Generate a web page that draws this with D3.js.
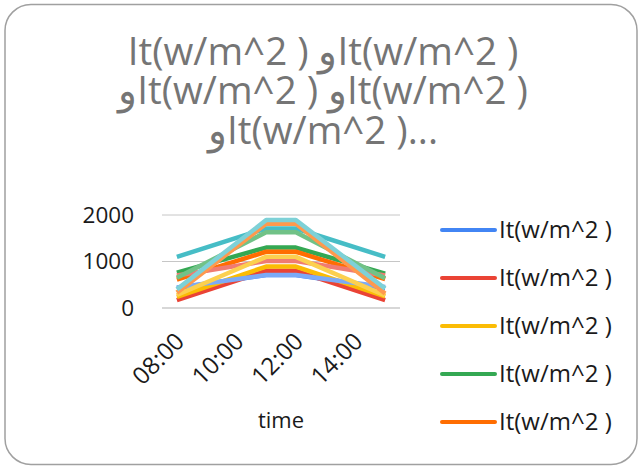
<!DOCTYPE html>
<html>
<head>
<meta charset="utf-8">
<script src="https://cdn.jsdelivr.net/npm/d3@7"></script>
<style>
  html, body { margin: 0; padding: 0; background: #fff; }
  svg { display: block; }
  .ltr-exact { direction: ltr; unicode-bidi: bidi-override; }
</style>
</head>
<body>
<svg id="chart" width="639" height="467"></svg>
<script>
// Hourly categories; only some hours carry readings, the line joins the ones present.
const categories = ["08:00", "09:00", "10:00", "11:00", "12:00", "13:00", "14:00", "15:00"];
const tickLabels = ["08:00", "10:00", "12:00", "14:00"];
const yTicks = [0, 1000, 2000];

const seriesNames = ["It(w/m^2 )", "It(w/m^2 )", "It(w/m^2 )", "It(w/m^2 )", "It(w/m^2 )", "It(w/m^2 )",
                     "It(w/m^2 )", "It(w/m^2 )", "It(w/m^2 )", "It(w/m^2 )", "It(w/m^2 )", "It(w/m^2 )"];
const seriesColors = ["#4285F4", "#EA4335", "#FBBC04", "#34A853", "#FF6D01", "#46BDC6",
                      "#7BAAF7", "#F07B72", "#FCD04F", "#71C287", "#FF994D", "#7ED1D7"];

const s1  = [430, null, null, 710, 710, null, null, 430];
const s2  = [170, null, null, 800, 800, null, null, 170];
const s3  = [240, null, null, 890, 890, null, null, 250];
const s4  = [760, null, null, 1300, 1300, null, null, 740];
const s5  = [610, null, null, 1210, 1210, null, null, 620];
const s6  = [1100, null, null, 1710, 1710, null, null, 1100];
const s7  = [440, null, null, 710, 710, null, null, 450];
const s8  = [700, null, null, 1010, 1010, null, null, 700];
const s9  = [280, null, null, 1100, 1100, null, null, 270];
const s10 = [650, null, null, 1630, 1630, null, null, 640];
const s11 = [330, null, null, 1810, 1810, null, null, 310];
const s12 = [400, null, null, 1890, 1890, null, null, 420];
const seriesValues = [s1, s2, s3, s4, s5, s6, s7, s8, s9, s10, s11, s12];
const legendCount = 5;

// title lines, written in the order they are laid out left to right
const titleLines = ["It(w/m^2 ) \u0648It(w/m^2 )", "\u0648It(w/m^2 ) \u0648It(w/m^2 )", "\u0648It(w/m^2 )..."];

const svg = d3.select("#chart");
const font = "'Open Sans', 'Noto Sans', sans-serif";

// outer rounded frame
svg.append("rect")
  .attr("x", 5).attr("y", 4.5).attr("width", 632).attr("height", 460)
  .attr("rx", 26).attr("ry", 26)
  .attr("fill", "#fff").attr("stroke", "#a0a0a0").attr("stroke-width", 1.5);

// title
svg.append("g").selectAll("text").data(titleLines).join("text")
  .attr("class", "ltr-exact")
  .attr("x", 323).attr("y", (d, i) => 64.5 + i * 39.5)
  .attr("text-anchor", "middle")
  .attr("font-family", font).attr("font-size", 38.5)
  .attr("fill", "#757575")
  .text(d => d);

const plot = { left: 162, right: 400, top: 215, bottom: 308 };

const x = d3.scaleBand().domain(categories).range([plot.left, plot.right]);
const y = d3.scaleLinear().domain([0, 2000]).range([plot.bottom, plot.top]);
const cx = c => x(c) + x.bandwidth() / 2;

// gridlines
svg.append("g").selectAll("line").data(yTicks.filter(t => t > 0)).join("line")
  .attr("x1", plot.left).attr("x2", plot.right)
  .attr("y1", d => y(d)).attr("y2", d => y(d))
  .attr("stroke", "#c6c6c6").attr("stroke-width", 1);

// y axis labels
const yAxis = d3.axisLeft(y).tickValues(yTicks).tickSize(0).tickPadding(0).tickFormat(d3.format("d"));
const yg = svg.append("g").attr("transform", `translate(${plot.left - 28},0)`).call(yAxis);
yg.select(".domain").remove();
yg.selectAll("text").attr("font-family", font).attr("font-size", 22.5).attr("fill", "#1a1a1a");

// x axis baseline
svg.append("line")
  .attr("x1", plot.left).attr("x2", plot.right)
  .attr("y1", plot.bottom).attr("y2", plot.bottom)
  .attr("stroke", "#b0b0b0").attr("stroke-width", 1.2);

// x axis labels
const xAxis = d3.axisBottom(x).tickValues(tickLabels).tickSize(0).tickPadding(0);
const xg = svg.append("g").attr("transform", `translate(0,${plot.bottom})`).call(xAxis);
xg.select(".domain").remove();
xg.selectAll("text")
  .attr("font-family", font).attr("font-size", 24).attr("fill", "#1a1a1a")
  .attr("text-anchor", "end")
  .attr("y", 0)
  .attr("dy", "0.35em")
  .attr("transform", "translate(3,29) rotate(-45)");

// axis title
svg.append("text")
  .attr("x", 281).attr("y", 428)
  .attr("text-anchor", "middle")
  .attr("font-family", font).attr("font-size", 22).attr("fill", "#1a1a1a")
  .text("time");

// series lines
const line = d3.line().x(d => cx(d.c)).y(d => y(d.v));
svg.append("g").selectAll("path").data(seriesValues).join("path")
  .attr("d", vals => line(categories.map((c, i) => ({ c, v: vals[i] })).filter(p => p.v !== null)))
  .attr("fill", "none")
  .attr("stroke", (d, i) => seriesColors[i])
  .attr("stroke-width", 4.5)
  .attr("stroke-linejoin", "round");

// legend (first entries)
const lg = svg.append("g").selectAll("g").data(seriesNames.slice(0, legendCount)).join("g")
  .attr("transform", (d, i) => `translate(0,${230 + i * 48})`);
lg.append("line")
  .attr("x1", 442).attr("x2", 495).attr("y1", 0).attr("y2", 0)
  .attr("stroke", (d, i) => seriesColors[i]).attr("stroke-width", 4)
  .attr("stroke-linecap", "round");
lg.append("text")
  .attr("x", 499).attr("y", 0).attr("dy", "0.35em")
  .attr("font-family", font).attr("font-size", 24).attr("fill", "#1a1a1a")
  .text(d => d);
</script>
</body>
</html>
